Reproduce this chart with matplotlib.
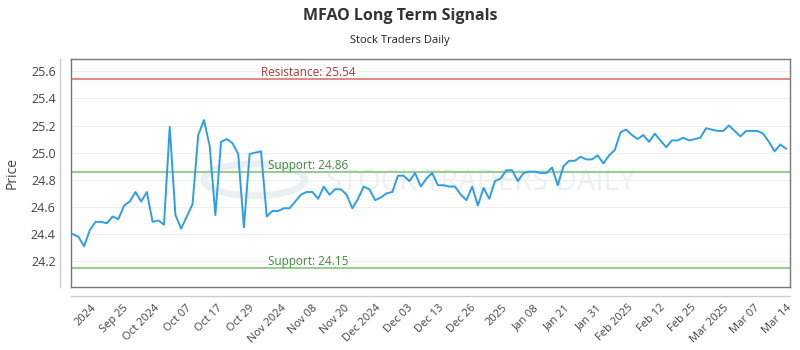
import numpy as np
import matplotlib
matplotlib.use("Agg")
import matplotlib.pyplot as plt
from matplotlib.patches import Circle

plt.rcParams['font.family'] = ['Open Sans', 'DejaVu Sans']

# price series (one value per trading session)
prices = [
    24.40, 24.38, 24.31, 24.43, 24.49, 24.49, 24.48, 24.53, 24.51, 24.61,
    24.64, 24.71, 24.64, 24.71, 24.49, 24.50, 24.47, 25.19, 24.54, 24.44,
    24.53, 24.62, 25.13, 25.24, 25.05, 24.54, 25.08, 25.10, 25.07, 24.99,
    24.45, 24.99, 25.00, 25.01, 24.53, 24.57, 24.57, 24.59, 24.59, 24.64,
    24.69, 24.71, 24.71, 24.66, 24.75, 24.69, 24.73, 24.73, 24.69, 24.59,
    24.66, 24.75, 24.73, 24.65, 24.67, 24.70, 24.71, 24.83, 24.83, 24.79,
    24.85, 24.75, 24.81, 24.85, 24.76, 24.76, 24.75, 24.75, 24.69, 24.65,
    24.75, 24.61, 24.74, 24.66, 24.79, 24.81, 24.87, 24.87, 24.79, 24.85,
    24.86, 24.86, 24.85, 24.85, 24.89, 24.76, 24.90, 24.94, 24.94, 24.97,
    24.95, 24.95, 24.98, 24.92, 24.98, 25.02, 25.15, 25.17, 25.13, 25.10,
    25.13, 25.08, 25.14, 25.09, 25.04, 25.09, 25.09, 25.11, 25.09, 25.10,
    25.11, 25.18, 25.17, 25.16, 25.16, 25.20, 25.16, 25.12, 25.16, 25.16,
    25.16, 25.14, 25.08, 25.01, 25.06, 25.03,
]

tick_labels = ["2024", "Sep 25", "Oct 2024", "Oct 07", "Oct 17", "Oct 29",
               "Nov 2024", "Nov 08", "Nov 20", "Dec 2024", "Dec 03", "Dec 13",
               "Dec 26", "2025", "Jan 08", "Jan 21", "Jan 31", "Feb 2025",
               "Feb 12", "Feb 25", "Mar 2025", "Mar 07", "Mar 14"]

resistance = 25.54
supports = [24.86, 24.15]

x = np.arange(len(prices))

fig = plt.figure(figsize=(8, 3.5), dpi=100)
ax = fig.add_axes([0.08875, 0.18, 0.89875, 0.6514])

# watermark
ax.text(0.57, 0.46, "STOCK TRADERS DAILY", transform=ax.transAxes,
        fontsize=21, color="#edf0f3", ha="center", va="center", zorder=0)
ax.add_patch(Circle((0.255, 0.47), 0.07, transform=ax.transAxes,
                    facecolor="none", edgecolor="#eceff2", lw=5, zorder=0))

ax.plot(x, prices, color="#2e9ee6", lw=1.4, zorder=3)

ax.axhline(resistance, color="#e08a8a", lw=1.5, zorder=2)
for s in supports:
    ax.axhline(s, color="#98cc92", lw=1.5, zorder=2)

ax.text(0.33, resistance, "Resistance: %.2f" % resistance,
        transform=ax.get_yaxis_transform(), ha="center", va="bottom",
        color="#a83a3a", fontsize=8.5)
for s in supports:
    ax.text(0.33, s, "Support: %.2f" % s,
            transform=ax.get_yaxis_transform(), ha="center", va="bottom",
            color="#3f8a3a", fontsize=8.5)

ax.set_xlim(-0.3, len(prices) - 1 + 0.7)
ax.set_ylim(24.01, 25.69)
ax.set_yticks([24.2, 24.4, 24.6, 24.8, 25.0, 25.2, 25.4, 25.6])
ax.set_yticklabels(["%.1f" % v for v in ax.get_yticks()])
ax.yaxis.grid(True, color="#efefef", lw=0.8)
ax.set_axisbelow(True)

tick_pos = np.linspace(3.2, 125.0, len(tick_labels))
ax.set_xticks(tick_pos)
ax.set_xticklabels(tick_labels, rotation=45, ha="right",
                   rotation_mode="anchor", fontsize=8, color="#444444")
ax.tick_params(axis="x", length=0, pad=11)
ax.tick_params(axis="y", length=0, pad=11, labelsize=9, labelcolor="#444444")

for sp in ax.spines.values():
    sp.set_color("#777777")
    sp.set_linewidth(1.0)

# detached axis lines
ax.plot([-0.015, -0.015], [0.0, 1.0], transform=ax.transAxes,
        color="#cccccc", lw=1, clip_on=False)
ax.plot([0.0, 1.0], [-0.04, -0.04], transform=ax.transAxes,
        color="#cccccc", lw=1, clip_on=False)

ax.set_ylabel("Price", fontsize=10, color="#444444", labelpad=8)

fig.text(0.5, 0.955, "MFAO Long Term Signals", ha="center", va="center",
         fontsize=11.5, fontweight="bold", color="#333333")
fig.text(0.5, 0.885, "Stock Traders Daily", ha="center", va="center",
         fontsize=8, color="#222222")

fig.savefig("out.png", dpi=100)
